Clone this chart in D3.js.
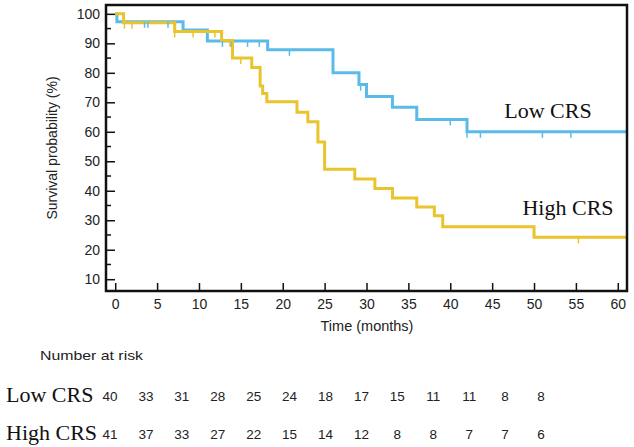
<!DOCTYPE html>
<html><head><meta charset="utf-8">
<script src="https://cdn.jsdelivr.net/npm/d3@7"></script>
<style>body{margin:0;background:#fff}svg{display:block}</style>
</head><body>
<svg id="c" width="634" height="447"></svg>
<script>
// Kaplan-Meier steps: [time, survival after event]
const lowSteps = [[0,100],[0.2,97.3],[8.1,94.5],[11.0,90.8],[18.2,87.8],[26.0,80],[29.1,76],[30.0,72],[33.1,68.3],[36.0,64.2],[42.0,60]];
const highSteps = [[0,100],[1.0,97],[7.1,94],[12.7,91],[14.0,85],[16.3,81.8],[17.3,75.5],[17.6,73],[18.1,70.2],[21.7,66.6],[23.0,63.4],[24.2,56.5],[25.0,47.3],[28.6,44],[31.0,40.8],[33.1,37.5],[36.0,34.5],[38.1,31.5],[39.1,27.8],[50.0,24.2]];
const lowCensor = [3.5,3.9,6.3,12.8,13.8,15.8,17.2,20.8,29.3,40.0,42.0,43.6,51.0,54.4];
const highCensor = [1.1,2.0,7.1,9.3,11.9,13.7,15.0,55.3];
const endTime = 61.1;
const xTicks = [0,5,10,15,20,25,30,35,40,45,50,55,60];
const yTicks = [10,20,30,40,50,60,70,80,90,100];
const yMinor = [15,25,35,45,55,65,75,85,95];
const riskTimes = [0,5,10,15,20,25,30,35,40,45,50,55,60];
const lowRisk = [40,33,31,28,25,24,18,17,15,11,11,8,8];
const highRisk = [41,37,33,27,22,15,14,12,8,8,7,7,6];
const groupNames = ["Low CRS","High CRS"];

const svg = d3.select("#c");
const x = d3.scaleLinear().domain([-1.1, 61.1]).range([106, 627]);
const y = d3.scaleLinear().domain([6, 103]).range([291, 5]);
const blue = "#5bbbe8", gold = "#e9c42c";
const sans = "Liberation Sans, Arial, sans-serif", serif = "Liberation Serif, Times New Roman, serif";

function stepPath(steps){
  const pts = steps.map(d=>[d[0],d[1]]);
  pts.push([endTime, steps[steps.length-1][1]]);
  return d3.line().x(d=>x(d[0])).y(d=>y(d[1])).curve(d3.curveStepAfter)(pts);
}
function survAt(steps,t){let v=100;for(const s of steps){if(s[0]<=t)v=s[1];}return v;}

const plot = svg.append("g");
plot.append("path").attr("d",stepPath(lowSteps)).attr("fill","none").attr("stroke",blue).attr("stroke-width",3);
plot.append("path").attr("d",stepPath(highSteps)).attr("fill","none").attr("stroke",gold).attr("stroke-width",3);
plot.selectAll(".cl").data(lowCensor).enter().append("line")
  .attr("x1",d=>x(d)).attr("x2",d=>x(d)).attr("y1",d=>y(survAt(lowSteps,d))).attr("y2",d=>y(survAt(lowSteps,d))+6)
  .attr("stroke",blue).attr("stroke-width",1.5);
plot.selectAll(".ch").data(highCensor).enter().append("line")
  .attr("x1",d=>x(d)).attr("x2",d=>x(d)).attr("y1",d=>y(survAt(highSteps,d))).attr("y2",d=>y(survAt(highSteps,d))+6)
  .attr("stroke",gold).attr("stroke-width",1.5);

// frame
svg.append("rect").attr("x",106).attr("y",5).attr("width",521).attr("height",286)
  .attr("fill","none").attr("stroke","#111").attr("stroke-width",2.5);

// axes (ticks inward)
const xAxis = svg.append("g").attr("transform","translate(0,291)")
  .call(d3.axisBottom(x).tickValues(xTicks).tickSize(-8).tickPadding(8));
xAxis.select(".domain").remove();
xAxis.selectAll("line").attr("stroke","#111").attr("stroke-width",1.5);
xAxis.selectAll("text").attr("font-family",sans).attr("font-size",14).attr("fill","#222");

const yAxis = svg.append("g").attr("transform","translate(106,0)")
  .call(d3.axisLeft(y).tickValues(yTicks).tickSize(-9).tickPadding(6));
yAxis.select(".domain").remove();
yAxis.selectAll("line").attr("stroke","#111").attr("stroke-width",1.5);
yAxis.selectAll("text").attr("font-family",sans).attr("font-size",14).attr("fill","#222");
svg.append("g").selectAll("line").data(yMinor).enter().append("line")
  .attr("x1",106).attr("x2",111).attr("y1",d=>y(d)).attr("y2",d=>y(d)).attr("stroke","#111").attr("stroke-width",1.5);

// axis titles
svg.append("text").attr("x",367).attr("y",331).attr("text-anchor","middle")
  .attr("font-family",sans).attr("font-size",14.5).attr("fill","#222").text("Time (months)");
svg.append("text").attr("transform","translate(57,148) rotate(-90)").attr("text-anchor","middle")
  .attr("font-family",sans).attr("font-size",14).attr("fill","#222").text("Survival probability (%)");

// curve labels
svg.append("text").attr("x",548).attr("y",118).attr("text-anchor","middle")
  .attr("font-family",serif).attr("font-size",22).attr("fill","#111").text(groupNames[0]);
svg.append("text").attr("x",568).attr("y",215).attr("text-anchor","middle")
  .attr("font-family",serif).attr("font-size",22).attr("fill","#111").text(groupNames[1]);

// number at risk table
const rx = d3.scaleLinear().domain([0,60]).range([110,541]);
svg.append("text").attr("x",40).attr("y",360).attr("font-family",sans)
  .attr("font-size",13.5).attr("textLength",103).attr("lengthAdjust","spacingAndGlyphs")
  .attr("fill","#222").text("Number at risk");
const rows = [[groupNames[0],lowRisk,402],[groupNames[1],highRisk,440]];
rows.forEach(r=>{
  svg.append("text").attr("x",6).attr("y",r[2]).attr("font-family",serif)
    .attr("font-size",22).attr("fill","#111").text(r[0]);
  svg.append("g").selectAll("text").data(r[1]).enter().append("text")
    .attr("x",(d,i)=>rx(riskTimes[i])).attr("y",r[2]-1).attr("text-anchor","middle")
    .attr("font-family",sans).attr("font-size",13.5).attr("fill","#222").text(d=>d);
});
</script>
</body></html>
